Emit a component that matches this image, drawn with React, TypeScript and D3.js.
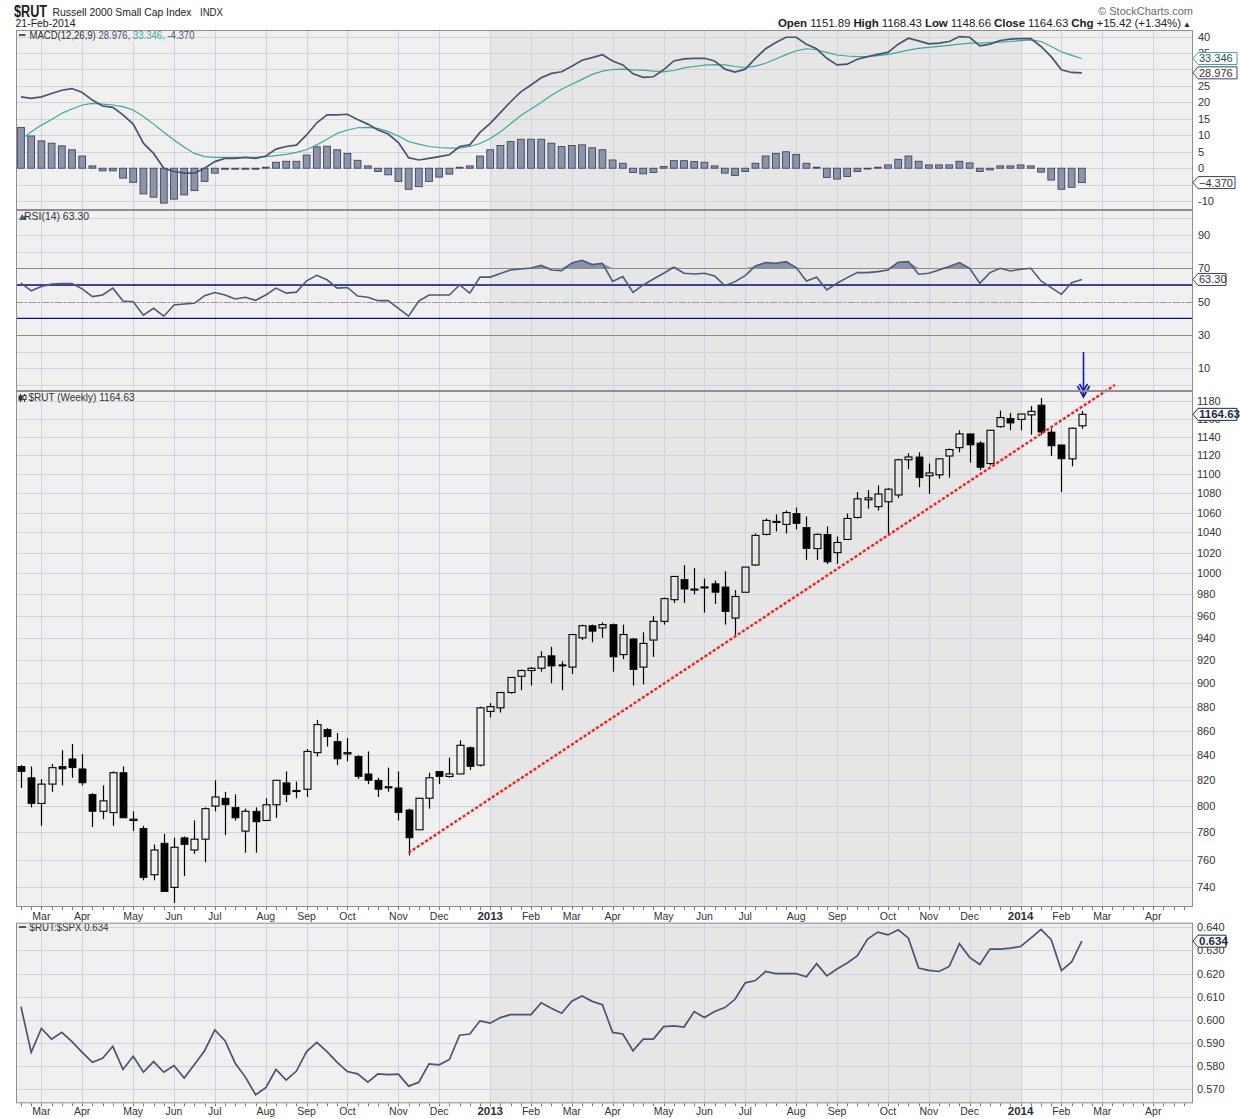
import React from 'react';
import * as d3 from 'd3';

// ---------- DATA (weekly, first week = Mon 20-Feb-2012) ----------
const firstWeekStart = new Date(2012, 1, 20);

const opens = [831,822,802,817,831,837,829,809,796,795, 826,789,783,749,772,740,776,767,775,800,
  806,799,781,796,789,801,818,811.5,813,842, 861,851,841,839,825,820,815,814,797,782,
  806,827,823,825,846,832,876,879,892,906, 911,913,924,916,914,940,951,949,952,925,
  939,914,938,955,975,994,984.5,987,990,987, 958,982,1008,1038,1050,1048,1059,1045,1024,1038,
  1020,1033,1055,1073,1066,1071,1078,1115,1118,1098, 1099,1119,1128,1143,1133,1111,1151,1160,1159,1164,
  1175,1145,1131,1116,1151.89];
const highs = [832,831,821,833,844,849,841,810,816,827, 831,796,785,771,779,776,777,789,799,820,
  811,809,798,799,806,820,827,819,845,869, 862,858,854,840,843,822,830,827,798,806,
  826,827,838,852,847,880,883,892,905,912, 914,928,932,919,943,952,952,954,953,952,
  940,945,960,977,997,1008,1005,995,993,1002, 984,1006,1039,1054,1058,1062,1065,1056,1039,1046,
  1036,1059,1081,1083,1088,1085,1116,1122,1123,1111, 1116,1127,1147,1143,1135,1147,1169,1166,1165,1174,
  1183,1149,1131,1150,1168.43];
const lows = [814,799,785,811,816,822,816,784,790,785, 791,781,745,745,737,729,748,764,758,796,
  778,789,765,765,789,791,803,806,807,839, 847,832,835,821,817,807,811,789,763,782,
  798,817,822,825,828,831,871,875,891,894, 898,910,900,894,908,938,936,940,910,921,
  898,899,923,952,972,972,980,963,971,952, 942,982,1007,1037,1041,1039,1043,1013,1013,1009,
  1009,1033,1054,1064,1062,1038,1075,1105,1086,1079, 1095,1096,1123,1112,1104,1109,1150,1147,1147,1142,
  1142,1119,1081,1108,1148.66];
const closes = [827,802,817,830,829,830,818,796,804,826, 791,790,747,767,737,769,771,775,798,807,
  801,791,796,788,801,820,809,812,843,865, 855,837,842,823,820,813,814,795,776,806,
  822,823,825,848,831,879,880,892,905,911, 913,923,915,915,943,951,946,952,923,943,
  912,935,955,976,997,985,985,987,982,964, 978,1006,1037,1052,1051,1060,1049,1024,1038,1011,
  1030,1054,1074,1075,1079,1084,1115,1118,1096,1101, 1116,1126,1143,1131,1107,1147,1161,1155,1165,1168,
  1145,1130,1116,1149.21,1164.63];

const macdLine = [21.7,21.2,21.7,22.7,23.7,24.2,23.0,20.7,18.9,18.5, 16.2,13.4,7.6,4.5,0.0,-1.0,-1.5,-1.5,0.0,2.0,
  3.0,3.0,3.3,3.0,3.7,5.8,6.6,7.0,10.1,13.8, 16.2,16.2,16.4,14.8,13.4,11.6,10.4,7.8,3.2,2.5,
  3.0,3.5,4.1,6.6,7.1,10.9,13.6,16.9,20.2,23.2, 25.3,27.5,28.8,29.3,31.0,32.8,33.6,34.5,32.6,31.4,
  28.7,27.6,27.8,29.9,32.6,33.2,33.4,33.4,32.6,30.1, 29.2,30.1,33.4,36.3,38.2,39.8,39.8,37.7,36.3,33.4,
  31.4,31.6,33.1,33.9,34.6,35.2,37.7,39.5,38.7,37.8, 38.0,38.5,40.0,39.8,37.2,37.7,38.8,39.2,39.4,39.4,
  37.0,33.9,29.9,29.1,28.976];
const signalLine = [8.6,11.1,13.1,14.8,16.7,18.0,19.2,19.7,19.5,19.2, 18.7,17.7,15.7,13.4,10.9,8.6,6.4,4.5,3.5,3.3,
  3.3,3.3,3.3,3.3,3.5,3.8,4.2,4.8,5.6,7.1, 8.8,10.6,11.6,12.3,12.4,12.1,11.1,9.8,8.1,7.3,
  6.6,6.3,6.1,6.1,6.6,7.5,9.0,11.0,13.5,16.0, 18.0,20.0,22.2,24.0,25.5,27.0,28.5,29.5,30.0,30.1,
  29.9,29.8,29.5,29.3,29.7,30.5,30.9,31.3,31.5,31.4, 30.9,30.6,31.0,31.9,33.2,34.5,35.7,36.3,36.0,35.2,
  34.4,34.1,33.9,33.9,34.2,34.6,35.2,35.9,36.4,36.7, 37.0,37.3,37.7,38.0,38.0,38.2,38.3,38.5,38.8,39.0,
  38.5,37.0,35.4,34.3,33.346];
const macdHist = [12.4,9.8,8.3,7.6,6.8,5.6,3.7,0.7,-0.8,-0.8, -3.0,-4.3,-7.8,-8.8,-10.6,-9.4,-8.1,-6.8,-4.0,-1.5,
  -0.3,-0.3,-0.3,-0.3,0.3,1.8,2.1,2.1,4.0,6.5, 6.7,5.6,4.5,2.4,0.7,-1.0,-2.0,-4.0,-6.4,-5.6,
  -4.0,-2.7,-1.8,0.3,0.7,3.7,5.6,6.9,8.1,8.8, 8.8,8.8,7.6,6.6,6.9,7.1,6.2,5.6,2.5,1.5,
  -1.3,-1.7,-1.3,0.5,2.3,2.3,2.0,1.8,0.7,-1.5, -2.2,-1.0,1.5,3.7,4.5,5.0,4.2,1.5,0.3,-2.8,
  -3.3,-2.5,-1.0,-0.1,0.3,1.0,2.7,3.7,2.1,1.0, 1.0,1.0,2.1,1.6,-1.0,-0.5,0.7,0.7,1.0,0.7,
  -1.2,-3.6,-6.4,-5.8,-4.37];

const rsiValues = [61.1,56.5,59.1,60.5,60.9,60.9,57.7,53.0,54.0,58.1, 50.4,50.0,41.9,46.0,41.3,48.0,48.6,49.0,53.6,55.5,
  54.0,51.6,52.6,50.8,54.0,58.1,55.1,55.7,62.5,65.8, 63.1,58.1,58.5,53.4,52.6,50.6,50.6,46.0,41.3,50.4,
  54.0,54.0,54.0,60.1,55.1,64.7,64.7,66.8,69.0,69.6, 70.2,71.8,69.0,68.6,73.2,74.8,72.2,73.0,62.1,65.0,
  55.6,60.0,63.6,67.0,70.6,67.0,66.6,67.0,65.4,59.6, 62.0,65.6,71.4,73.4,73.0,74.0,70.4,62.4,64.6,57.0,
  61.0,64.4,67.4,67.4,68.0,69.0,73.6,74.0,66.4,67.0, 69.0,71.0,73.4,70.0,61.0,67.4,70.0,68.4,69.4,70.0,
  62.4,58.4,54.4,61.4,63.3];

const ratioValues = [0.6057,0.5860,0.5963,0.5917,0.5946,0.5906,0.5860,0.5817,0.5834,0.5886,
  0.5786,0.5843,0.5774,0.5820,0.5774,0.5803,0.5749,0.5807,0.5867,0.5957,
  0.5910,0.5813,0.5753,0.5677,0.5707,0.5786,0.5740,0.5779,0.5863,0.5903,
  0.5863,0.5817,0.5777,0.5767,0.5731,0.5767,0.5764,0.5766,0.5714,0.5731,
  0.5810,0.5806,0.5829,0.5934,0.5939,0.5996,0.5986,0.6010,0.6023,0.6023,
  0.6023,0.6074,0.6050,0.6029,0.6081,0.6103,0.6080,0.6066,0.5946,0.5939,
  0.5867,0.5917,0.5917,0.5971,0.5974,0.5969,0.6036,0.6010,0.6036,0.6053,
  0.6089,0.6160,0.6170,0.6209,0.6200,0.6200,0.6200,0.6186,0.6243,0.6190,
  0.6220,0.6246,0.6277,0.6349,0.6379,0.6367,0.6389,0.6353,0.6224,0.6214,
  0.6209,0.6231,0.6329,0.6270,0.6239,0.6306,0.6306,0.6310,0.6317,0.6353,
  0.6391,0.6346,0.6213,0.6250,0.634];

const priceTicks = [740,760,780,800,820,840,860,880,900,920,940,960,980,1000,1020,1040,1060,1080,1100,1120,1140,1160,1180];
const macdGrid = [40,35,30,25,20,15,10,5,0,-5,-10];
// labels visible on the right axis (30 and -5 sit under the value boxes in the original)
const macdTickLabels = [40,35,25,20,15,10,5,0,-10];
const rsiGrid = [0,10,20,30,40,50,60,70,80,90,100];
const rsiTicks = [90,70,50,30,10];
const ratioTicks = [0.640,0.630,0.620,0.610,0.600,0.590,0.580,0.570];

// trendline anchors (week index, price)
const trendStart = { week: 38, value: 765 };
const trendEnd = { week: 107.25, value: 1198 };

const headerQuote = [
  ['Open', '1151.89'], ['High', '1168.43'], ['Low', '1148.66'], ['Close', '1164.63'], ['Chg', '+15.42 (+1.34%)'],
];

// ---------- STYLE ----------
const FONT = "'Liberation Sans', Arial, Helvetica, sans-serif";
const BG = '#f0f0f0';
const BG_YEAR = '#e6e6e6';
const GRID = '#cfd3dc';
const FRAME = '#8f8f8f';
const DARK = '#4a5472';
const TEAL = '#3aa89b';
const TEXT = '#333333';

const L = 16, R = 1193;
const P = {
  macd: { top: 30, bottom: 210 },
  rsi: { top: 210, bottom: 391 },
  main: { top: 391, bottom: 907 },
  ratio: { top: 922.7, bottom: 1103.3 },
};

function ValueBox({ y, text, color, bold, w = 44 }: { y: number; text: string; color: string; bold?: boolean; w?: number }) {
  const x0 = R;
  const h = 12;
  const d = `M${x0},${y} L${x0 + 5},${y - h / 2} L${x0 + w},${y - h / 2} L${x0 + w},${y + h / 2} L${x0 + 5},${y + h / 2} Z`;
  return (
    <g>
      <path d={d} fill="#ffffff" stroke={color} strokeWidth={1} />
      <text x={x0 + 6} y={y + 4} fontSize={bold ? 11.5 : 11} fontWeight={bold ? 'bold' : 'normal'} fill={bold ? '#1e2a44' : color === TEAL ? '#1f4f4a' : '#333'} fontFamily={FONT}>{text}</text>
    </g>
  );
}

export default function App() {
  const n = closes.length;
  const x = d3.scaleLinear().domain([-0.49, 114.9]).range([L, R]);
  const yMacd = d3.scaleLinear().domain([-12.7, 42]).range([P.macd.bottom, P.macd.top]);
  const yRsi = d3.scaleLinear().domain([-3.5, 104.9]).range([P.rsi.bottom, P.rsi.top]);
  const yMain = d3.scaleLog().domain([726.2, 1191]).range([P.main.bottom, P.main.top]);
  const yRatio = d3.scaleLinear().domain([0.56399, 0.64197]).range([P.ratio.bottom, P.ratio.top]);

  const weeks = d3.range(0, 116).map((i) => d3.timeDay.offset(firstWeekStart, 7 * i));
  const monthTicks = weeks
    .map((d, i) => ({ d, i }))
    .filter(({ d, i }) => i > 0 && d.getMonth() !== weeks[i - 1].getMonth() && x(i) < R);
  const fmtMonth = d3.timeFormat('%b');
  const jan2013 = monthTicks.find((t) => t.d.getFullYear() === 2013 && t.d.getMonth() === 0)!.i;
  const jan2014 = monthTicks.find((t) => t.d.getFullYear() === 2014 && t.d.getMonth() === 0)!.i;
  const idx = d3.range(n);

  const panels = [P.macd, P.rsi, P.main, P.ratio];

  const macdPath = d3.line<number>().x((_, i) => x(i)).y((v) => yMacd(v))(macdLine)!;
  const sigPath = d3.line<number>().x((_, i) => x(i)).y((v) => yMacd(v))(signalLine)!;
  const rsiPath = d3.line<number>().x((_, i) => x(i)).y((v) => yRsi(v))(rsiValues)!;
  const rsiArea = d3.area<number>().x((_, i) => x(i)).y0(yRsi(70)).y1((v) => yRsi(Math.max(v, 70)))(rsiValues)!;
  const ratioPath = d3.line<number>().x((_, i) => x(i)).y((v) => yRatio(v))(ratioValues)!;

  const crisp = (v: number) => Math.round(v) + 0.5;

  const panelBackground = (p: { top: number; bottom: number }, k: number) => (
    <g key={'bg' + k}>
      <rect x={L} y={p.top} width={R - L} height={p.bottom - p.top} fill={BG} />
      <rect x={x(jan2013)} y={p.top} width={x(jan2014) - x(jan2013)} height={p.bottom - p.top} fill={BG_YEAR} />
      {monthTicks.map((t) => (
        <line key={t.i} x1={crisp(x(t.i))} x2={crisp(x(t.i))} y1={p.top} y2={p.bottom} stroke={GRID} strokeWidth={1} />
      ))}
    </g>
  );

  const axisLabels = (yBase: number) => (
    <g>
      {monthTicks.map((t) => {
        const isYear = t.d.getMonth() === 0;
        return (
          <text key={t.i} x={x(t.i)} y={yBase} textAnchor="middle" fontFamily={FONT}
            fontSize={isYear ? 11.5 : 10.5} fontWeight={isYear ? 'bold' : 'normal'} fill={isYear ? '#2a2f3d' : TEXT}>
            {isYear ? d3.timeFormat('%Y')(t.d) : fmtMonth(t.d)}
          </text>
        );
      })}
    </g>
  );

  const weeklyTicks = (y0: number) => (
    <g>
      {d3.range(0, 115).map((i) => (
        <line key={i} x1={crisp(x(i))} x2={crisp(x(i))} y1={y0} y2={y0 + 3} stroke="#777" strokeWidth={1} />
      ))}
    </g>
  );

  return (
    <svg width={1240} height={1119} style={{ display: 'block', position: 'absolute', left: 0, top: 0, background: '#fff' }}>
      <defs>
        {panels.map((p, k) => (
          <clipPath id={'clip' + k} key={k}>
            <rect x={L} y={p.top} width={R - L} height={p.bottom - p.top} />
          </clipPath>
        ))}
      </defs>
      <rect x={0} y={0} width={1240} height={1119} fill="#ffffff" />

      {/* Header */}
      <text x={14} y={16.5} fontFamily={FONT} fontSize={16} fontWeight="bold" fill="#1b1b1b" textLength={33} lengthAdjust="spacingAndGlyphs">$RUT</text>
      <text x={52.5} y={16} fontFamily={FONT} fontSize={10.5} fill="#222" textLength={139} lengthAdjust="spacingAndGlyphs">Russell 2000 Small Cap Index</text>
      <text x={200} y={16} fontFamily={FONT} fontSize={10} fill="#222" textLength={23} lengthAdjust="spacingAndGlyphs">INDX</text>
      <text x={15.5} y={27} fontFamily={FONT} fontSize={11} fill="#222" textLength={60} lengthAdjust="spacingAndGlyphs">21-Feb-2014</text>
      <text x={1193} y={15} textAnchor="end" fontFamily={FONT} fontSize={11} fill="#6a6a6a">© StockCharts.com</text>
      <text x={778} y={27} fontFamily={FONT} fontSize={11.5} fill="#222" textLength={413} lengthAdjust="spacing">
        {headerQuote.map(([k, v], i) => (
          <React.Fragment key={k}>
            <tspan fontWeight="bold">{(i > 0 ? '  ' : '') + k}</tspan>
            <tspan>{' ' + v}</tspan>
          </React.Fragment>
        ))}
        <tspan fontSize={8}>{' ▲'}</tspan>
      </text>

      {/* Backgrounds + vertical grid */}
      {panels.map((p, k) => panelBackground(p, k))}

      {/* Horizontal gridlines */}
      {macdGrid.map((v) => (
        <line key={'mg' + v} x1={L} x2={R} y1={crisp(yMacd(v))} y2={crisp(yMacd(v))} stroke={GRID} />
      ))}
      {rsiGrid.map((v) => (
        <line key={'rg' + v} x1={L} x2={R} y1={crisp(yRsi(v))} y2={crisp(yRsi(v))} stroke={GRID} />
      ))}
      {priceTicks.map((v) => (
        <line key={'pg' + v} x1={L} x2={R} y1={crisp(yMain(v))} y2={crisp(yMain(v))} stroke={GRID} />
      ))}
      {ratioTicks.map((v) => (
        <line key={'qg' + v} x1={L} x2={R} y1={crisp(yRatio(v))} y2={crisp(yRatio(v))} stroke={GRID} />
      ))}

      {/* MACD panel */}
      <g clipPath="url(#clip0)">
        {idx.map((i) => {
          const v = macdHist[i];
          const y0 = yMacd(0), y1 = yMacd(v);
          return (
            <rect key={i} x={x(i) - 3.4} width={6.8} y={Math.min(y0, y1)} height={Math.max(0.8, Math.abs(y1 - y0))}
              fill="#8d93a8" stroke="#3c4560" strokeWidth={0.9} />
          );
        })}
        <path d={sigPath} fill="none" stroke={TEAL} strokeWidth={1.2} />
        <path d={macdPath} fill="none" stroke={DARK} strokeWidth={1.7} />
      </g>
      <g fontFamily={FONT}>
        <rect x={19} y={34} width={6.5} height={2} fill={DARK} />
        <text x={29.5} y={39} fontSize={10.5} fill="#333" textLength={165} lengthAdjust="spacingAndGlyphs">
          <tspan>MACD(12,26,9) </tspan>
          <tspan fill={DARK}>28.976, </tspan>
          <tspan fill={TEAL}>33.346, </tspan>
          <tspan fill={DARK}>-4.370</tspan>
        </text>
      </g>

      {/* RSI panel */}
      <g clipPath="url(#clip1)">
        <path d={rsiArea} fill="#8a91a8" />
        <line x1={L} x2={R} y1={crisp(yRsi(70))} y2={crisp(yRsi(70))} stroke="#8c8c8c" strokeWidth={1} />
        <line x1={L} x2={R} y1={crisp(yRsi(30))} y2={crisp(yRsi(30))} stroke="#8c8c8c" strokeWidth={1} />
        <line x1={L} x2={R} y1={yRsi(60)} y2={yRsi(60)} stroke="#0a0a8c" strokeWidth={1.4} />
        <line x1={L} x2={R} y1={yRsi(40)} y2={yRsi(40)} stroke="#0a0a8c" strokeWidth={1.4} />
        <line x1={L} x2={R} y1={crisp(yRsi(50))} y2={crisp(yRsi(50))} stroke="#9a9a9a" strokeWidth={1} strokeDasharray="7,2,2,2" />
        <path d={rsiPath} fill="none" stroke="#4e5a78" strokeWidth={1.6} />
      </g>
      <g fontFamily={FONT}>
        <path d="M19,220 L22,214 L24,217 L26,214 L26,220 Z" fill="#4e5a78" />
        <text x={24} y={220} fontSize={10.5} fill="#333" textLength={65} lengthAdjust="spacingAndGlyphs">RSI(14) 63.30</text>
      </g>

      {/* Main price panel */}
      <g clipPath="url(#clip2)">
        {idx.map((i) => {
          const o = opens[i], c = closes[i], h = highs[i], l = lows[i];
          const cx = crisp(x(i));
          const yTop = yMain(Math.max(o, c));
          const yBot = yMain(Math.min(o, c));
          const up = c >= o;
          const bodyH = Math.max(1, yBot - yTop);
          return (
            <g key={i}>
              <line x1={cx} x2={cx} y1={yMain(h)} y2={yTop} stroke="#000" strokeWidth={1.2} />
              <line x1={cx} x2={cx} y1={yTop + bodyH} y2={yMain(l)} stroke="#000" strokeWidth={1.2} />
              <rect x={cx - 3.5} y={yTop} width={7} height={bodyH}
                fill={up ? 'none' : '#000'} stroke="#000" strokeWidth={up ? 1.1 : 0.8} />
            </g>
          );
        })}
      </g>
      <line x1={x(trendStart.week)} y1={yMain(trendStart.value)} x2={x(trendEnd.week)} y2={yMain(trendEnd.value)}
        stroke="#ff1a1a" strokeWidth={2.4} strokeDasharray="3,2" />
      <g fontFamily={FONT}>
        <g stroke="#333" strokeWidth={1}>
          <line x1={20.5} x2={20.5} y1={394} y2={402} />
          <rect x={19} y={396} width={3} height={4} fill="#333" />
          <line x1={24.5} x2={24.5} y1={394} y2={402} />
          <rect x={23} y={395.5} width={3} height={4} fill="#fff" />
        </g>
        <text x={28.5} y={401} fontSize={10.5} fill="#333" textLength={106} lengthAdjust="spacingAndGlyphs">$RUT (Weekly) 1164.63</text>
      </g>
      {/* blue arrow */}
      <g stroke="#1414c8" strokeWidth={1.6} fill="none">
        <line x1={1083.5} x2={1083.5} y1={352} y2={396} />
        <polyline points="1077.5,386 1083.5,397 1089.5,386" />
        <polyline points="1079.5,384 1083.5,391 1087.5,384" />
      </g>

      {/* Ratio panel */}
      <g clipPath="url(#clip3)">
        <path d={ratioPath} fill="none" stroke={DARK} strokeWidth={1.7} />
      </g>
      <g fontFamily={FONT}>
        <rect x={19} y={926} width={7} height={2} fill={DARK} />
        <text x={29.5} y={931} fontSize={10.5} fill="#333" textLength={79} lengthAdjust="spacingAndGlyphs">$RUT:$SPX 0.634</text>
      </g>

      {/* Panel frames */}
      {panels.map((p, k) => (
        <rect key={'f' + k} x={L + 0.5} y={p.top + 0.5} width={R - L - 1} height={p.bottom - p.top - 1} fill="none" stroke={FRAME} strokeWidth={1} />
      ))}

      {/* Weekly ticks and month labels */}
      {weeklyTicks(P.main.bottom)}
      {weeklyTicks(P.ratio.bottom)}
      {axisLabels(919.5)}
      {axisLabels(1114.5)}

      {/* Right axes */}
      <g fontFamily={FONT} fontSize={11} fill={TEXT}>
        {macdTickLabels.map((v) => (
          <text key={'ml' + v} x={1198} y={yMacd(v) + 4}>{v}</text>
        ))}
        {rsiTicks.map((v) => (
          <text key={'rl' + v} x={1198} y={yRsi(v) + 4}>{v}</text>
        ))}
        {priceTicks.map((v) => (
          <text key={'pl' + v} x={1197} y={yMain(v) + 4}>{v}</text>
        ))}
        {ratioTicks.map((v) => (
          <text key={'ql' + v} x={1197} y={yRatio(v) + 4}>{d3.format('.3f')(v)}</text>
        ))}
      </g>

      {/* Value boxes */}
      <ValueBox y={yMacd(signalLine[n - 1])} text={d3.format('.3f')(signalLine[n - 1])} color={TEAL} />
      <ValueBox y={yMacd(macdLine[n - 1])} text={d3.format('.3f')(macdLine[n - 1])} color="#3c4560" />
      <ValueBox y={yMacd(macdHist[n - 1])} text={d3.format('.3f')(macdHist[n - 1])} color="#3c4560" w={42} />
      <ValueBox y={yRsi(rsiValues[n - 1])} text={d3.format('.2f')(rsiValues[n - 1])} color="#3c4560" w={33} />
      <ValueBox y={yMain(closes[n - 1])} text={d3.format('.2f')(closes[n - 1])} color="#1e2a44" bold w={44} />
      <ValueBox y={yRatio(ratioValues[n - 1])} text={d3.format('.3f')(ratioValues[n - 1])} color="#1e2a44" bold w={33} />
    </svg>
  );
}
